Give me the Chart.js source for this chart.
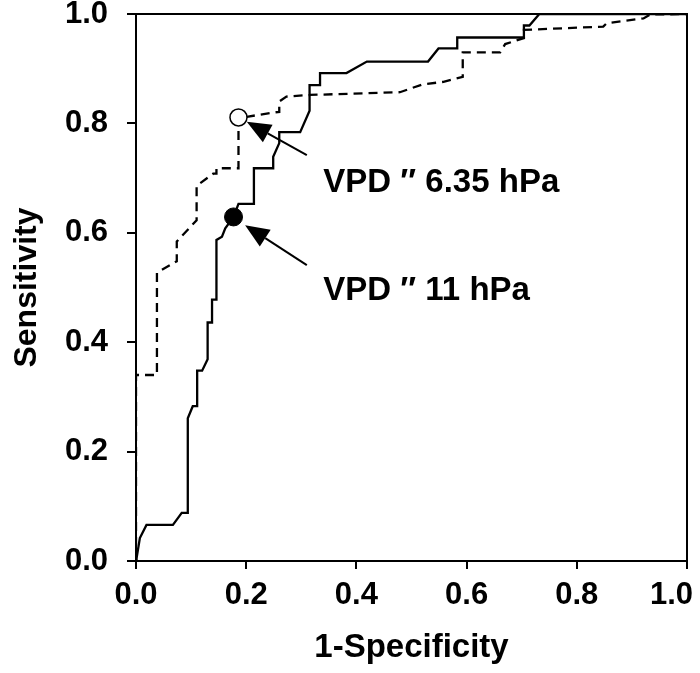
<!DOCTYPE html>
<html>
<head>
<meta charset="utf-8">
<script src="https://cdn.jsdelivr.net/npm/chart.js@4"></script>
<style>
  body { margin: 0; background: #fff; }
  #wrap { width: 700px; height: 673px; position: relative; }
</style>
</head>
<body>
<div id="wrap"><canvas id="rocChart"></canvas></div>
<script>
const FONT = 'Arial, "Liberation Sans", Helvetica, sans-serif';

// ROC curve, solid line (VPD 11 hPa)
const solidX = [0, 0.001, 0.007, 0.019, 0.067, 0.083, 0.094, 0.094, 0.103, 0.111,
    0.111, 0.120, 0.130, 0.130, 0.138, 0.138, 0.146, 0.146, 0.156, 0.162,
    0.177, 0.186, 0.214, 0.214, 0.249, 0.249, 0.260, 0.260, 0.298, 0.315,
    0.315, 0.334, 0.334, 0.382, 0.419, 0.530, 0.549, 0.583, 0.583, 0.704,
    0.704, 0.714, 0.732, 1.0];
const solidY = [0, 0.005, 0.042, 0.066, 0.066, 0.088, 0.088, 0.261, 0.283, 0.283,
    0.348, 0.348, 0.369, 0.436, 0.436, 0.478, 0.478, 0.587, 0.593, 0.608,
    0.629, 0.653, 0.653, 0.718, 0.718, 0.739, 0.764, 0.784, 0.784, 0.823,
    0.870, 0.870, 0.892, 0.892, 0.913, 0.913, 0.937, 0.937, 0.957, 0.957,
    0.979, 0.979, 1.0, 1.0];

// dashed line (VPD 6.35 hPa)
const dashedX = [0, 0, 0.038, 0.038, 0.074, 0.074, 0.110, 0.110, 0.140, 0.146,
    0.146, 0.186, 0.186, 0.201, 0.249, 0.260, 0.260, 0.273, 0.315, 0.479,
    0.519, 0.558, 0.593, 0.593, 0.661, 0.670, 0.704, 0.704, 0.848, 0.854,
    0.921, 0.933, 1.0];
const dashedY = [0, 0.340, 0.340, 0.527, 0.548, 0.584, 0.623, 0.686, 0.708, 0.708,
    0.718, 0.718, 0.811, 0.812, 0.820, 0.821, 0.840, 0.849, 0.852, 0.857,
    0.871, 0.876, 0.885, 0.930, 0.930, 0.945, 0.956, 0.971, 0.977, 0.983,
    0.992, 0.999, 1.0];

// cut-off points: [open circle, filled circle]
const cutoffX = [0.186, 0.177];
const cutoffY = [0.811, 0.629];

// annotations
const noteText = ['VPD \u2033 6.35 hPa', 'VPD \u2033 11 hPa'];
const noteX = [0.340, 0.340];
const noteY = [0.675, 0.477];
const arrowTailX = [0.310, 0.310];
const arrowTailY = [0.742, 0.541];
const arrowTipX = [0.201, 0.198];
const arrowTipY = [0.803, 0.614];

const ticks = [0, 0.2, 0.4, 0.6, 0.8, 1.0];

function toPoints(xs, ys) {
    return xs.map((x, i) => ({ x: x, y: ys[i] }));
}

// Draws the top/right frame, the arrows and the annotation text
const frameAndNotes = {
    id: 'frameAndNotes',
    afterDatasetsDraw(chart) {
        const { ctx, chartArea: a, scales: { x, y } } = chart;
        ctx.save();
        ctx.strokeStyle = '#000';
        ctx.fillStyle = '#000';
        ctx.lineWidth = 2;
        ctx.beginPath();
        ctx.moveTo(a.left, a.top);
        ctx.lineTo(a.right, a.top);
        ctx.lineTo(a.right, a.bottom);
        ctx.stroke();

        for (let i = 0; i < arrowTipX.length; i++) {
            const x0 = x.getPixelForValue(arrowTailX[i]), y0 = y.getPixelForValue(arrowTailY[i]);
            const x1 = x.getPixelForValue(arrowTipX[i]), y1 = y.getPixelForValue(arrowTipY[i]);
            const ang = Math.atan2(y1 - y0, x1 - x0);
            const len = 24, half = 10;
            const bx = x1 - len * Math.cos(ang), by = y1 - len * Math.sin(ang);
            ctx.beginPath();
            ctx.moveTo(x0, y0);
            ctx.lineTo(bx, by);
            ctx.stroke();
            ctx.beginPath();
            ctx.moveTo(x1, y1);
            ctx.lineTo(bx + half * Math.sin(ang), by - half * Math.cos(ang));
            ctx.lineTo(bx - half * Math.sin(ang), by + half * Math.cos(ang));
            ctx.closePath();
            ctx.fill();
        }

        ctx.font = 'bold 33px ' + FONT;
        ctx.textAlign = 'left';
        ctx.textBaseline = 'alphabetic';
        noteText.forEach((t, i) => {
            ctx.fillText(t, x.getPixelForValue(noteX[i]), y.getPixelForValue(noteY[i]));
        });
        ctx.restore();
    }
};

const tickFont = { size: 31, weight: 'bold', family: FONT };
const titleFont = { size: 33, weight: 'bold', family: FONT };

new Chart(document.getElementById('rocChart'), {
    type: 'scatter',
    data: {
        datasets: [
            {
                label: 'VPD 6.35 hPa cut-off',
                data: [{ x: cutoffX[0], y: cutoffY[0] }],
                pointRadius: 8.5,
                backgroundColor: '#fff',
                borderColor: '#000',
                borderWidth: 1.5
            },
            {
                label: 'VPD 11 hPa cut-off',
                data: [{ x: cutoffX[1], y: cutoffY[1] }],
                pointRadius: 9,
                backgroundColor: '#000',
                borderColor: '#000',
                borderWidth: 1
            },
            {
                label: 'VPD 11 hPa',
                data: toPoints(solidX, solidY),
                showLine: true,
                pointRadius: 0,
                borderColor: '#000',
                borderWidth: 2.3
            },
            {
                label: 'VPD 6.35 hPa',
                data: toPoints(dashedX, dashedY),
                showLine: true,
                pointRadius: 0,
                borderColor: '#000',
                borderWidth: 2.3,
                borderDash: [9, 6]
            }
        ]
    },
    options: {
        responsive: true,
        maintainAspectRatio: false,
        animation: false,
        events: [],
        layout: { padding: { top: 14, right: 13, bottom: 0, left: 0 } },
        plugins: {
            legend: { display: false },
            tooltip: { enabled: false }
        },
        scales: {
            x: {
                type: 'linear',
                min: 0,
                max: 1,
                afterBuildTicks: s => { s.ticks = ticks.map(v => ({ value: v })); },
                ticks: {
                    color: '#000',
                    font: tickFont,
                    padding: 8,
                    maxRotation: 0,
                    autoSkip: false,
                    callback: v => (v === 1 ? '1.0\u2002\u2002' : v.toFixed(1))
                },
                grid: { drawOnChartArea: false, color: '#000', lineWidth: 2, tickLength: 8 },
                border: { color: '#000', width: 2 },
                title: {
                    display: true,
                    text: '1-Specificity',
                    color: '#000',
                    font: titleFont,
                    padding: { top: 0, bottom: 5 }
                },
                afterFit(s) {
                    s.height = 112;
                    s.paddingLeft = 0;
                    s.paddingRight = 0;
                }
            },
            y: {
                type: 'linear',
                min: 0,
                max: 1,
                afterBuildTicks: s => { s.ticks = ticks.map(v => ({ value: v })); },
                ticks: {
                    color: '#000',
                    font: tickFont,
                    padding: 19,
                    autoSkip: false,
                    callback: v => v.toFixed(1)
                },
                grid: { drawOnChartArea: false, color: '#000', lineWidth: 2, tickLength: 9 },
                border: { color: '#000', width: 2 },
                title: {
                    display: true,
                    text: 'Sensitivity',
                    color: '#000',
                    font: { size: 32, weight: 'bold', family: FONT },
                    padding: { top: 8, bottom: 0 }
                },
                afterFit(s) {
                    s.width = 136;
                    s.paddingTop = 0;
                    s.paddingBottom = 0;
                }
            }
        }
    },
    plugins: [frameAndNotes]
});
</script>
</body>
</html>
